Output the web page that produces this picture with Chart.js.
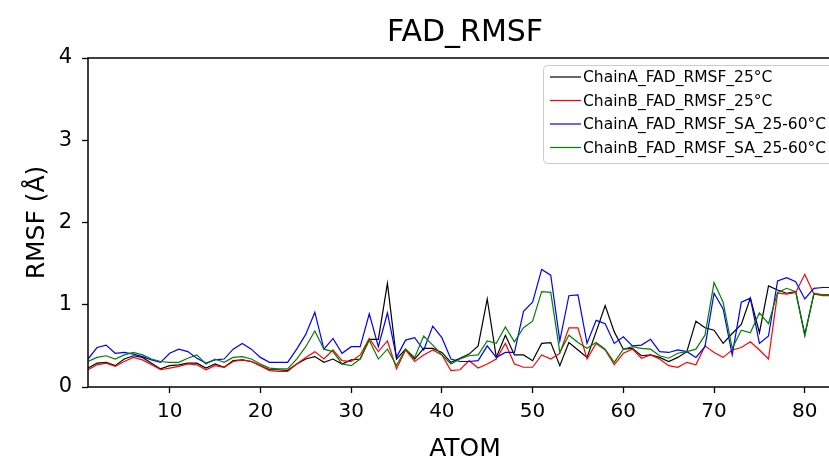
<!DOCTYPE html>
<html>
<head>
<meta charset="utf-8">
<script src="https://cdn.jsdelivr.net/npm/chart.js@4.4.1/dist/chart.umd.min.js"></script>
<style>
  html, body { margin: 0; padding: 0; background: #fff; overflow: hidden; }
  #wrap { width: 850px; height: 464px; }
</style>
</head>
<body>
<div id="wrap"><canvas id="c" width="850" height="464"></canvas></div>
<script>
const atoms = [1,2,3,4,5,6,7,8,9,10,11,12,13,14,15,16,17,18,19,20,21,22,23,24,25,26,27,28,29,30,31,32,33,34,35,36,37,38,39,40,41,42,43,44,45,46,47,48,49,50,51,52,53,54,55,56,57,58,59,60,61,62,63,64,65,66,67,68,69,70,71,72,73,74,75,76,77,78,79,80,81,82,83];

const chainA25 = [0.23,0.29,0.30,0.26,0.34,0.38,0.36,0.29,0.22,0.26,0.27,0.29,0.29,0.23,0.28,0.24,0.32,0.33,0.31,0.26,0.21,0.21,0.20,0.28,0.34,0.37,0.30,0.34,0.28,0.33,0.34,0.58,0.58,1.26,0.34,0.46,0.34,0.47,0.47,0.42,0.30,0.35,0.40,0.50,1.07,0.36,0.63,0.39,0.39,0.32,0.53,0.54,0.26,0.54,0.45,0.36,0.67,0.99,0.67,0.46,0.47,0.38,0.39,0.36,0.31,0.36,0.43,0.80,0.72,0.69,0.53,0.65,0.76,1.08,0.66,1.23,1.18,1.14,1.16,0.64,1.13,1.12,1.12];

const chainB25 = [0.21,0.27,0.29,0.25,0.31,0.36,0.33,0.27,0.21,0.23,0.25,0.28,0.27,0.21,0.26,0.24,0.31,0.33,0.31,0.26,0.20,0.19,0.19,0.28,0.36,0.43,0.34,0.45,0.32,0.31,0.39,0.59,0.43,0.56,0.22,0.45,0.31,0.39,0.45,0.39,0.20,0.21,0.32,0.23,0.28,0.34,0.53,0.28,0.24,0.24,0.39,0.34,0.41,0.72,0.72,0.34,0.53,0.45,0.27,0.41,0.46,0.35,0.39,0.34,0.26,0.24,0.30,0.27,0.50,0.42,0.36,0.45,0.48,0.55,0.45,0.34,1.14,1.13,1.15,1.37,1.13,1.11,1.11];

const chainASA = [0.34,0.48,0.51,0.41,0.42,0.40,0.37,0.33,0.30,0.41,0.46,0.43,0.35,0.29,0.33,0.34,0.46,0.53,0.46,0.36,0.30,0.30,0.30,0.46,0.64,0.91,0.46,0.59,0.41,0.49,0.49,0.89,0.49,0.90,0.36,0.57,0.60,0.45,0.74,0.60,0.34,0.31,0.31,0.32,0.50,0.36,0.42,0.42,0.92,1.03,1.43,1.36,0.56,1.11,1.12,0.53,0.81,0.77,0.53,0.61,0.50,0.51,0.58,0.43,0.42,0.45,0.43,0.36,0.49,1.14,0.95,0.39,1.03,1.08,0.53,0.62,1.29,1.33,1.28,1.07,1.20,1.21,1.21];

const chainBSA = [0.31,0.36,0.38,0.34,0.39,0.42,0.39,0.34,0.31,0.30,0.30,0.35,0.39,0.28,0.34,0.30,0.36,0.37,0.34,0.28,0.23,0.22,0.22,0.34,0.49,0.68,0.46,0.43,0.28,0.26,0.34,0.57,0.34,0.46,0.26,0.46,0.36,0.62,0.51,0.39,0.28,0.34,0.38,0.39,0.56,0.53,0.73,0.55,0.72,0.80,1.16,1.15,0.42,0.63,0.54,0.47,0.54,0.46,0.30,0.46,0.49,0.47,0.46,0.38,0.35,0.41,0.43,0.46,0.63,1.27,1.03,0.47,0.69,0.66,0.90,0.77,1.15,1.20,1.16,0.62,1.14,1.12,1.12];

const seriesNames = ["ChainA_FAD_RMSF_25°C", "ChainB_FAD_RMSF_25°C", "ChainA_FAD_RMSF_SA_25-60°C", "ChainB_FAD_RMSF_SA_25-60°C"];
const seriesColors = ["#000000", "#ff0000", "#0000ff", "#008000"];
const xTickValues = [10, 20, 30, 40, 50, 60, 70, 80];
const yTickValues = [0, 1, 2, 3, 4];
const chartTitle = 'FAD_RMSF';

const allSeries = [chainA25, chainB25, chainASA, chainBSA];

const FONT = "'DejaVu Sans', 'Liberation Sans', sans-serif";

const datasets = allSeries.map((vals, i) => ({
  label: seriesNames[i],
  data: atoms.map((a, j) => ({ x: a, y: vals[j] })),
  borderColor: seriesColors[i],
  backgroundColor: seriesColors[i],
  borderWidth: 1.2,
  pointRadius: 0,
  tension: 0,
  fill: false,
  order: allSeries.length - i
}));

const framePlugin = {
  id: 'frame',
  afterDraw(chart) {
    const { ctx, chartArea: a } = chart;
    ctx.save();
    ctx.strokeStyle = '#000';
    ctx.lineWidth = 1.5;
    ctx.strokeRect(a.left, a.top, a.right - a.left, a.bottom - a.top);

    // title centred over the axes
    ctx.fillStyle = '#000';
    ctx.font = '30px ' + FONT;
    ctx.textAlign = 'center';
    ctx.textBaseline = 'alphabetic';
    ctx.fillText(chartTitle, (a.left + a.right) / 2, 41);

    // legend (matplotlib style, upper right inside axes)
    const fs = 15.5;
    const x0 = 543.5, y0 = 65.5, w = 291, h = 98, r = 4;
    ctx.beginPath();
    ctx.moveTo(x0 + r, y0);
    ctx.lineTo(x0 + w - r, y0);
    ctx.arcTo(x0 + w, y0, x0 + w, y0 + r, r);
    ctx.lineTo(x0 + w, y0 + h - r);
    ctx.arcTo(x0 + w, y0 + h, x0 + w - r, y0 + h, r);
    ctx.lineTo(x0 + r, y0 + h);
    ctx.arcTo(x0, y0 + h, x0, y0 + h - r, r);
    ctx.lineTo(x0, y0 + r);
    ctx.arcTo(x0, y0, x0 + r, y0, r);
    ctx.closePath();
    ctx.fillStyle = 'rgba(255,255,255,0.8)';
    ctx.fill();
    ctx.strokeStyle = '#cccccc';
    ctx.lineWidth = 1;
    ctx.stroke();

    ctx.font = fs + 'px ' + FONT;
    ctx.textBaseline = 'middle';
    ctx.textAlign = 'left';
    chart.data.datasets.forEach((ds, i) => {
      const yy = 77 + i * 23.5;
      ctx.strokeStyle = ds.borderColor;
      ctx.lineWidth = 1.2;
      ctx.beginPath();
      ctx.moveTo(550, yy);
      ctx.lineTo(581, yy);
      ctx.stroke();
      ctx.fillStyle = '#000';
      ctx.fillText(ds.label, 583, yy + 1);
    });
    ctx.restore();
  }
};

new Chart(document.getElementById('c'), {
  type: 'line',
  data: { datasets },
  plugins: [framePlugin],
  options: {
    responsive: false,
    animation: false,
    devicePixelRatio: 1,
    layout: { padding: { left: 0, right: 8, top: 58, bottom: 0 } },
    plugins: {
      legend: { display: false },
      tooltip: { enabled: false },
      title: { display: false }
    },
    scales: {
      x: {
        type: 'linear',
        min: 1,
        max: 84.1,
        afterBuildTicks(scale) { scale.ticks = xTickValues.map(v => ({ value: v })); },
        afterFit(scale) { scale.height = 77; },
        grid: { display: true, drawOnChartArea: false, drawTicks: true, tickLength: 6, tickColor: '#000', tickWidth: 1.3 },
        border: { display: false },
        ticks: { color: '#000', font: { family: FONT, size: 20 }, padding: 7, maxRotation: 0, autoSkip: false },
        title: { display: true, text: 'ATOM', color: '#000', font: { family: FONT, size: 25, lineHeight: 1.2 }, padding: { top: 0, bottom: 0 } }
      },
      y: {
        type: 'linear',
        min: 0,
        max: 4,
        afterBuildTicks(scale) { scale.ticks = yTickValues.map(v => ({ value: v })); },
        afterFit(scale) { scale.width = 88; },
        grid: { display: true, drawOnChartArea: false, drawTicks: true, tickLength: 6, tickColor: '#000', tickWidth: 1.3 },
        border: { display: false },
        ticks: { color: '#000', font: { family: FONT, size: 21 }, padding: 10 },
        title: { display: true, text: 'RMSF (Å)', color: '#000', font: { family: FONT, size: 25, lineHeight: 1.2 }, padding: { top: 22, bottom: 0 } }
      }
    }
  }
});
</script>
</body>
</html>
